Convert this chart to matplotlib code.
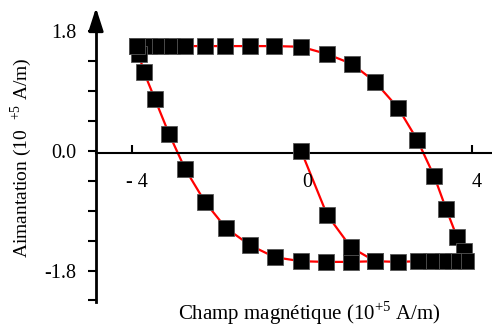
import matplotlib
matplotlib.use("Agg")
import matplotlib.pyplot as plt

plt.rcParams['font.family'] = ['Liberation Serif', 'DejaVu Serif']
plt.rcParams['mathtext.fontset'] = 'custom'
plt.rcParams['mathtext.rm'] = 'Liberation Serif'

# hysteresis loop (units of 10^5 A/m)
loop_x = [-3.88, -3.60, -3.34, -3.06, -2.75, -2.28, -1.81, -1.22, -0.66, -0.02,
          0.59, 1.18, 1.72, 2.26, 2.71, 3.11, 3.39, 3.65, 3.81, 3.86,
          3.55, 3.32, 3.04, 2.73, 2.26, 1.72, 1.15, 0.56, -0.02, -0.64,
          -1.22, -1.79, -2.28, -2.75, -3.13, -3.46, -3.72, -3.84, -3.88]
loop_y = [1.58, 1.58, 1.58, 1.58, 1.58, 1.58, 1.58, 1.58, 1.58, 1.57,
          1.46, 1.31, 1.04, 0.65, 0.17, -0.38, -0.87, -1.30, -1.51, -1.66,
          -1.66, -1.66, -1.66, -1.66, -1.67, -1.66, -1.67, -1.67, -1.66, -1.60,
          -1.42, -1.16, -0.77, -0.27, 0.26, 0.78, 1.19, 1.46, 1.58]

# first magnetisation curve
virgin_x = [-0.02, 0.59, 1.15, 1.72]
virgin_y = [0.0, -0.96, -1.45, -1.66]

xticks = [-4, 0, 4]
xticklabels = ['- 4', '0', '4']
yticks = [-1.8, 0.0, 1.8]
yticklabels = ['-1.8', '0.0', '1.8']
yminor = [-2.25, -1.35, -0.9, -0.45, 0.45, 0.9, 1.35]

fig = plt.figure(figsize=(4.92, 3.28), dpi=100)
ax = fig.add_axes([0, 0, 1, 1])
# pixel layout: x=0 at px 302 (42.5 px/unit), y=0 at py 151 (66.4 px/unit)
ax.set_xlim(-302 / 42.5, (492 - 302) / 42.5)
ax.set_ylim((151 - 328) / 66.4, 151 / 66.4)

for s in ['top', 'right']:
    ax.spines[s].set_visible(False)
x_left = (96 - 302) / 42.5
ax.spines['left'].set_position(('data', x_left))
ax.spines['left'].set_bounds((151 - 302) / 66.4, (151 - 25) / 66.4)
ax.spines['left'].set_linewidth(2.0)
ax.spines['bottom'].set_position(('data', -0.03))
ax.spines['bottom'].set_bounds(x_left, 10)
ax.spines['bottom'].set_linewidth(1.5)
# arrow on y axis
ax.annotate('', xy=(x_left, (151 - 5) / 66.4), xytext=(x_left, (151 - 30) / 66.4),
            arrowprops=dict(arrowstyle='-|>,head_length=1.4,head_width=0.45',
                            color='black', lw=2))

ax.plot(loop_x, loop_y, color='red', lw=1.6, zorder=2)
ax.plot(virgin_x, virgin_y, color='red', lw=1.6, zorder=2)
ax.plot(loop_x, loop_y, ls='none', marker='s', ms=11.5, mfc='black',
        mec='#555555', mew=0.6, zorder=3)
ax.plot(virgin_x, virgin_y, ls='none', marker='s', ms=11.5, mfc='black',
        mec='#555555', mew=0.6, zorder=3)

ax.set_xticks(xticks)
ax.set_xticklabels([])
ax.tick_params(axis='x', direction='in', length=6, width=1.5)
for xv, lab in zip(xticks, xticklabels):
    ax.text(xv + 0.12, -0.47, lab, fontsize=14.5, ha='center', va='center')

ax.set_yticks(yticks)
ax.set_yticklabels(yticklabels, fontsize=14.5)
ax.set_yticks(yminor, minor=True)
ax.tick_params(axis='y', which='both', direction='out', length=6, width=1.5, pad=8)

fig.text(309 / 492, 1 - 313 / 328, 'Champ magnétique (10$^{+5}$ A/m)',
         fontsize=15, ha='center', va='center')
fig.text(21 / 492, 1 - 158 / 328, 'Aimantation (10  $^{+5}$ A/m)',
         fontsize=14, ha='center', va='center', rotation=90)

fig.savefig('out.png', dpi=100)
